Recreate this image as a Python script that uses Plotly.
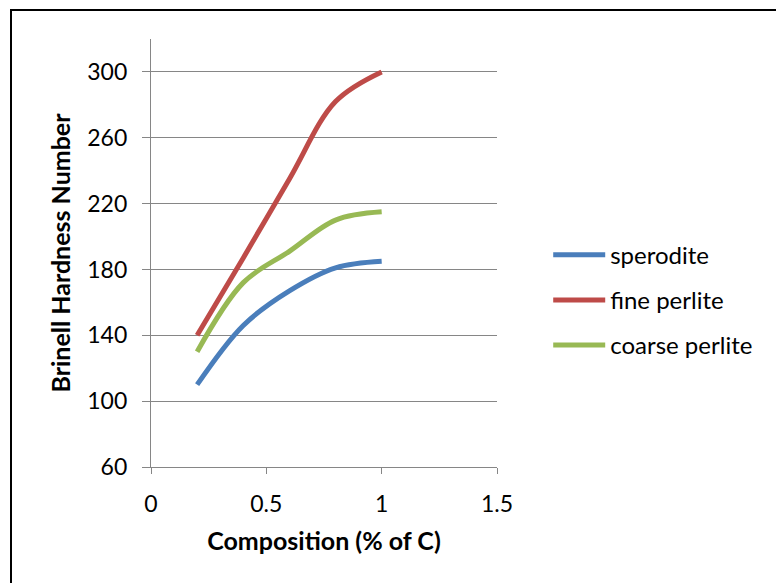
import plotly.graph_objects as go

composition = [0.2, 0.4, 0.6, 0.8, 1.0]
sperodite = [110, 146, 167, 181, 185]
fine_perlite = [140, 187, 235, 282, 300]
coarse_perlite = [130, 172, 191, 210, 215]

series_names = ["sperodite", "fine perlite", "coarse perlite"]
series_values = [sperodite, fine_perlite, coarse_perlite]
series_colors = ["#4a7ebb", "#be4b48", "#98b954"]

x_ticks = [0, 0.5, 1, 1.5]
x_tick_labels = ["0", "0.5", "1", "1.5"]
y_ticks = [60, 100, 140, 180, 220, 260, 300]

FONT = "Lato, 'Open Sans', sans-serif"
FS = 23
FS_T = 25
FS_L = 24

fig = go.Figure()
for i, (name, vals, col) in enumerate(zip(series_names, series_values, series_colors)):
    fig.add_trace(go.Scatter(
        x=composition, y=vals, name=name, mode="lines",
        line=dict(color=col, width=5, shape="spline", smoothing=1.0),
        legendgroup=f"g{i}",
    ))

fig.update_layout(
    width=776, height=583,
    margin=dict(l=151, r=279, t=39, b=116),
    paper_bgcolor="white", plot_bgcolor="white",
    font=dict(family=FONT, size=FS, color="black"),
    showlegend=True,
    legend=dict(
        x=1.148, y=0.39, xanchor="left", yanchor="middle",
        font=dict(family=FONT, size=FS_L, color="black"),
        traceorder="grouped", tracegroupgap=11,
        itemwidth=52,
        borderwidth=0,
        bgcolor="rgba(0,0,0,0)",
    ),
    xaxis=dict(
        range=[0, 1.5], tickvals=x_ticks, ticktext=x_tick_labels,
        showgrid=False, zeroline=False,
        showline=True, linecolor="#868686", linewidth=1.3,
        ticks="outside", ticklen=6, tickcolor="#868686", tickwidth=1.3,
        ticklabelstandoff=10,
        tickfont=dict(family=FONT, size=FS),
        title=dict(text="<b>Composition (% of C)</b>", font=dict(family=FONT, size=FS_T), standoff=16),
    ),
    yaxis=dict(
        range=[60, 320], tickvals=y_ticks,
        showgrid=True, gridcolor="#868686", gridwidth=1.3,
        zeroline=False,
        showline=True, linecolor="#868686", linewidth=1.3,
        ticks="outside", ticklen=8, tickcolor="#868686", tickwidth=1.3,
        ticklabelstandoff=10,
        tickfont=dict(family=FONT, size=FS),
        title=dict(text="<b>Brinell Hardness Number</b>", font=dict(family=FONT, size=FS_T), standoff=9),
    ),
    shapes=[dict(
        type="rect", xref="paper", yref="paper",
        x0=(11 - 151) / 346, x1=(800 - 151) / 346,
        y0=(467 - 610) / 428, y1=(467 - 10) / 428,
        line=dict(color="black", width=2), fillcolor="rgba(0,0,0,0)", layer="below",
    )],
)

fig.write_html("out.html")
